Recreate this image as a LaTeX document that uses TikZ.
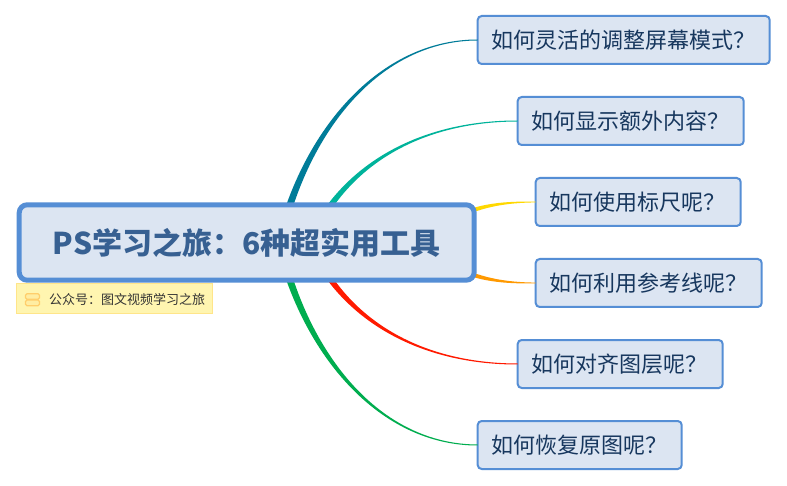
\documentclass[tikz,border=0pt]{standalone}
\usepackage{fontspec}
\setmainfont{Noto Sans CJK SC}
\usetikzlibrary{calc}
\definecolor{boxfill}{HTML}{DCE5F2}
\definecolor{boxline}{HTML}{558ED5}
\definecolor{rootink}{HTML}{376092}
\definecolor{topicink}{HTML}{17375E}
\definecolor{notefill}{HTML}{FFF5B0}
\definecolor{noteline}{HTML}{FFE58A}
\definecolor{noteicon}{HTML}{FFCE6B}
\definecolor{bA}{HTML}{007C99}
\definecolor{bB}{HTML}{00B39B}
\definecolor{bC}{HTML}{FFD800}
\definecolor{bD}{HTML}{FF9900}
\definecolor{bE}{HTML}{FF1A00}
\definecolor{bF}{HTML}{00AD4F}
\tikzset{
  x=1pt,y=-1pt,
  topicbox/.style={draw=boxline,fill=boxfill,line width=2pt,rounded corners=4pt,outer sep=0pt,
    minimum height=48pt,inner sep=0pt,anchor=north west},
  topictext/.style={anchor=west,inner sep=0pt,outer sep=0pt,text=topicink,font=\fontsize{22}{26}\selectfont},
  rootbox/.style={draw=boxline,fill=boxfill,line width=5pt,rounded corners=8pt,outer sep=0pt,
    inner sep=0pt,minimum width=455pt,minimum height=75.4pt,
    text=rootink,font=\fontsize{30}{34}\selectfont\bfseries},
  notebox/.style={draw=noteline,fill=notefill,line width=1pt,inner sep=0pt,outer sep=0pt,
    minimum width=195.7pt,minimum height=30pt,anchor=north west},
  notetext/.style={text=black!80,font=\fontsize{13}{15}\selectfont,inner sep=0pt,outer sep=0pt,anchor=west},
  noteslot/.style={draw=noteicon,fill=notefill!80!noteicon,line width=1.3pt,rounded corners=1.5pt}
}
% steep tapered branch: colour, start, control1, control2, end anchor, half width at start, side sign
\newcommand{\taper}[7]{%
  \fill[#1] ($(#2)+(#6,0)$) .. controls ($(#3)+(#6*.7,#7*1)$) and ($(#4)+(0,#7*.7)$) .. ($(#5)+(0,#7*.5)$)
     -- ($(#5)-(0,#7*.5)$) .. controls ($(#4)-(0,#7*.7)$) and ($(#3)-(#6*.7,#7*1)$) .. ($(#2)-(#6,0)$) -- cycle;}
% flat tapered branch: colour, start, control1, control2, end anchor, half height at start
\newcommand{\taperflat}[6]{%
  \fill[#1] ($(#2)+(0,#6)$) .. controls ($(#3)+(0,#6*.7)$) and ($(#4)+(0,.8)$) .. ($(#5)+(0,.4)$)
     -- ($(#5)-(0,.4)$) .. controls ($(#4)-(0,.8)$) and ($(#3)-(0,#6*.7)$) .. ($(#2)-(0,#6)$) -- cycle;}
\begin{document}
\begin{tikzpicture}
\useasboundingbox (0,0) rectangle (787,486);
\fill[white] (0,0) rectangle (787,486);
\coordinate (rA) at (279,243);
\coordinate (rB) at (309,243);
\coordinate (rC) at (450,220);
\coordinate (rD) at (450,265);
\coordinate (rE) at (309,242);
\coordinate (rF) at (279,242);
\node[topicbox,minimum width=292pt] (a) at (477.7,16) {};
\node[topicbox,minimum width=226pt] (b) at (517.7,97) {};
\node[topicbox,minimum width=205pt] (c) at (535.7,178) {};
\node[topicbox,minimum width=226pt] (d) at (535.7,259) {};
\node[topicbox,minimum width=205pt] (e) at (517.7,340) {};
\node[topicbox,minimum width=204pt] (f) at (477.7,421) {};
\taper{bA}{rA}{305,130}{380,40}{a.west}{4}{1}
\taper{bB}{rB}{343,165}{420,121}{b.west}{4}{1}
\taperflat{bC}{rC}{478,205}{505,202}{c.west}{3}
\taperflat{bD}{rD}{478,280}{505,283}{d.west}{3}
\taper{bE}{rE}{343,320}{420,364}{e.west}{4}{-1}
\taper{bF}{rF}{305,355}{380,445}{f.west}{4}{-1}
\node[rootbox] (root) at (246.7,242.5) {PS学习之旅：6种超实用工具};
\node[topictext] (ta) at (491,40) {如何灵活的调整屏幕模式？};
\node[topictext] (tb) at (531,121) {如何显示额外内容？};
\node[topictext] (tc) at (549,202) {如何使用标尺呢？};
\node[topictext] (td) at (549,283) {如何利用参考线呢？};
\node[topictext] (te) at (531,364) {如何对齐图层呢？};
\node[topictext] (tf) at (491,445) {如何恢复原图呢？};
\node[notebox] (note) at (16.5,283.8) {};
\draw[noteslot] (25.5,293.7) rectangle (39.5,299.3);
\draw[noteslot] (25.5,300) rectangle (39.5,305.7);
\node[notetext] (nt) at (49,300) {公众号：图文视频学习之旅};
\end{tikzpicture}
\end{document}
